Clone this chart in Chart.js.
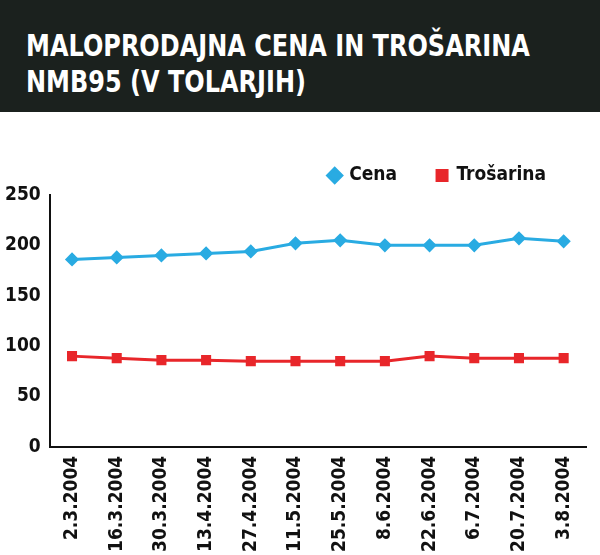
<!DOCTYPE html>
<html>
<head>
<meta charset="utf-8">
<script src="https://cdn.jsdelivr.net/npm/chart.js@4"></script>
<style>
body { margin: 0; background: #fff; width: 600px; height: 555px; overflow: hidden; }
#head { background: #1b211e; height: 112px; color: #fff; font-family: "DejaVu Sans", sans-serif; font-weight: bold; font-size: 30px; line-height: 36px; padding: 28px 0 0 26px; box-sizing: border-box; white-space: nowrap; overflow: hidden; }
#head span { display: inline-block; transform: scaleX(0.8); transform-origin: left top; }
#wrap { width: 600px; height: 443px; }
</style>
</head>
<body>
<div id="head"><span>MALOPRODAJNA CENA IN TROŠARINA<br>NMB95 (V TOLARJIH)</span></div>
<div id="wrap"><canvas id="chart"></canvas></div>
<script>
const dates = ["2.3.2004","16.3.2004","30.3.2004","13.4.2004","27.4.2004","11.5.2004","25.5.2004","8.6.2004","22.6.2004","6.7.2004","20.7.2004","3.8.2004"];
const cena = [186, 188, 190, 192, 194, 202, 205, 200, 200, 200, 207, 204];
const trosarina = [90, 88, 86, 86, 85, 85, 85, 85, 90, 88, 88, 88];

const font = { family: "'DejaVu Sans Condensed', 'DejaVu Sans', sans-serif", weight: 'bold', size: 19 };

new Chart("chart", {
    type: 'line',
    data: {
        labels: dates,
        datasets: [{
            label: "Cena",
            data: cena,
            borderColor: "#29abe2",
            backgroundColor: "#29abe2",
            borderWidth: 3,
            pointStyle: 'rectRot',
            pointRadius: 5,
            tension: 0
        }, {
            label: "Trošarina",
            data: trosarina,
            borderColor: "#e8262a",
            backgroundColor: "#e8262a",
            borderWidth: 3,
            pointStyle: 'rect',
            pointRadius: 5,
            tension: 0
        }]
    },
    options: {
        animation: false,
        responsive: true,
        maintainAspectRatio: false,
        layout: { padding: { left: 2, right: 14, top: 14 } },
        plugins: {
            legend: {
                position: 'top',
                align: 'end',
                labels: { usePointStyle: true, color: '#111', font: font, padding: 40, boxWidth: 10, boxHeight: 10 }
            },
            tooltip: { enabled: false }
        },
        scales: {
            y: {
                min: 0,
                max: 250,
                afterBuildTicks: axis => {
                    axis.ticks = [];
                    for (let v = 0; v <= 250; v += 10) axis.ticks.push({ value: v });
                },
                ticks: {
                    autoSkip: false,
                    color: '#111',
                    font: font,
                    callback: v => v % 50 == 0 ? v : ''
                },
                grid: { display: false, drawTicks: true, tickLength: 6, tickColor: '#111' },
                border: { color: '#111', width: 2 }
            },
            x: {
                offset: true,
                ticks: { color: '#111', font: font, maxRotation: 90, minRotation: 90, autoSkip: false },
                grid: { display: false, tickLength: 6, tickColor: '#111' },
                border: { color: '#111', width: 2 }
            }
        }
    }
})
</script>
</body>
</html>
